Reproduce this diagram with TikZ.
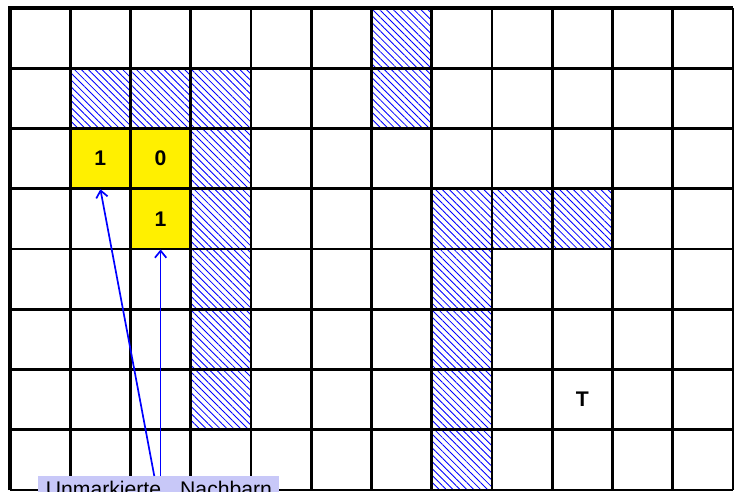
\documentclass[tikz,border=0pt]{standalone}
\usepackage{fontspec}
\setmainfont{Liberation Sans}
\usetikzlibrary{arrows.meta, patterns.meta}
\definecolor{cellyellow}{HTML}{FFF000}
\definecolor{labelblue}{HTML}{C8C8F8}

\begin{document}
\begin{tikzpicture}[
    hatched/.style={pattern={Lines[angle=-45, distance=2.3pt, line width=0.4pt]}, pattern color=blue},
    marked/.style={fill=cellyellow, minimum size=1cm, inner sep=0pt, font=\bfseries},
    pointer/.style={draw=blue, line width=0.8pt, -{Straight Barb[length=3.3pt, width=5.4pt]}}
]
  \useasboundingbox (-0.166,-0.017) rectangle (12.033,8.133);
  \clip (-0.166,-0.017) rectangle (12.033,8.133);

  % Hindernisse (schraffiert)
  \foreach \c/\r in {6/0, 1/1, 2/1, 3/1, 6/1, 3/2, 3/3, 7/3, 8/3, 9/3,
                     3/4, 7/4, 3/5, 7/5, 3/6, 7/6, 7/7}
    \fill[hatched] (\c, 7-\r) rectangle ++(1,1);

  % markierte Felder
  \node[marked] (m1) at (1.5,5.5) {1};
  \node[marked] (m0) at (2.5,5.5) {0};
  \node[marked] (m2) at (2.5,4.5) {1};

  % Gitter
  \draw[line width=1.3pt] (0,0) grid (12,8);
  \draw[line width=2pt] (0,0) -- (0,8) -- (12,8);

  % Ziel
  \node[font=\bfseries] (goal) at (9.5,1.5) {T};

  % Beschriftung mit Pfeilen
  \node[fill=labelblue, anchor=north west, inner xsep=3.5pt, inner ysep=2.2pt]
    (lbl) at (0.465,0.232) {Unmarkierte\hspace{9pt}Nachbarn};
  \draw[pointer] ([xshift=-2.2pt]lbl.north) -- (m1.south);
  \draw[pointer] (lbl.north -| m2.south) -- (m2.south);

\end{tikzpicture}
\end{document}
